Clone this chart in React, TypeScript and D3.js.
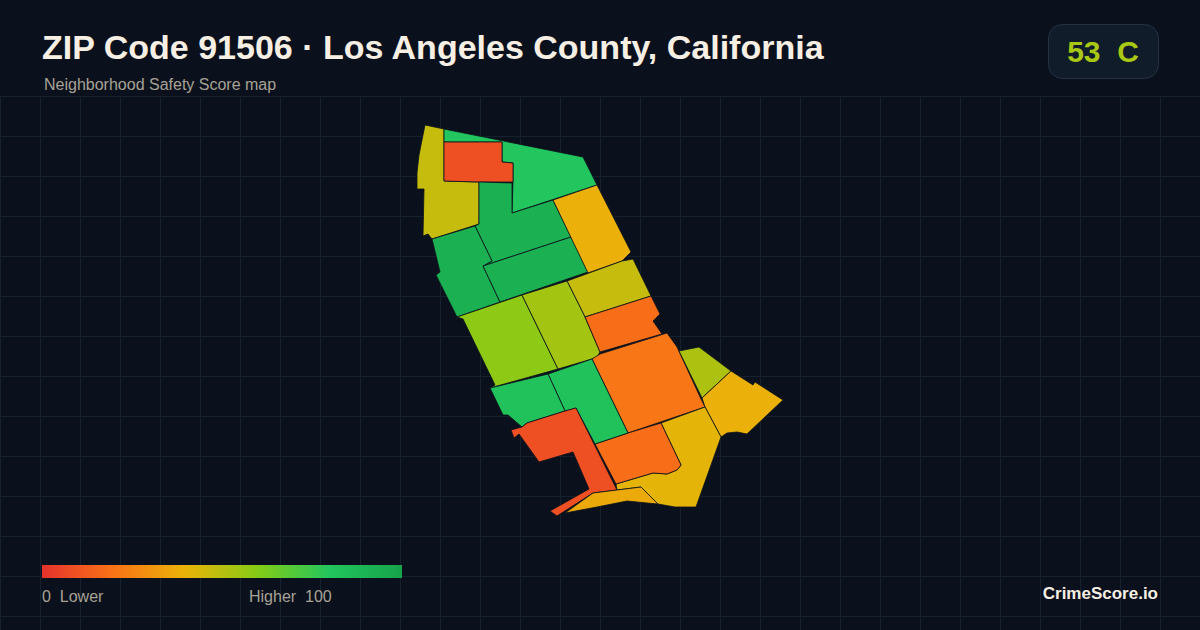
import React from "react";
import * as d3 from "d3";

const WIDTH = 1200;
const HEIGHT = 630;

const title = "ZIP Code 91506 · Los Angeles County, California";
const subtitle = "Neighborhood Safety Score map";

// legend ramp, score -> colour
const rampStops = [0, 20, 40, 60, 80, 100];
const rampColors = ["#e5322d", "#f97316", "#eab308", "#84cc16", "#22c55e", "#16a34a"];

// score of each block group, same order as blockRings
const blockScores = [47, 80, 9, 92, 92, 92, 39, 47, 58, 54, 18, 21, 52, 39, 41, 18, 82, 82, 9, 37];

// block group outlines in map units
const blockRings: [number, number][][] = [
  [[8, 1], [27, 5], [27, 57], [62, 58], [62, 100], [15, 115], [11, 110], [6, 112], [7, 65], [0, 65], [0, 49], [2, 31]],
  [[27, 5], [166, 33], [180, 61], [95, 89], [96, 58], [96, 39], [85, 38], [85, 18], [27, 18]],
  [[27, 18], [85, 18], [85, 38], [96, 39], [96, 58], [62, 58], [27, 57]],
  [[62, 58], [95, 59], [95, 89], [136, 76], [154, 113], [66, 142], [75, 137], [58, 102], [62, 100]],
  [[15, 115], [58, 102], [75, 137], [66, 142], [83, 178], [40, 193], [19, 151], [23, 148]],
  [[66, 142], [154, 113], [171, 148], [83, 178]],
  [[136, 76], [180, 61], [214, 128], [205, 137], [171, 149]],
  [[150, 157], [205, 137], [216, 135], [234, 172], [168, 193]],
  [[40, 193], [105, 171], [141, 245], [73, 264], [78, 261], [46, 195]],
  [[105, 171], [150, 157], [168, 193], [183, 228], [180, 233], [175, 235], [141, 245]],
  [[168, 193], [234, 172], [243, 190], [236, 197], [245, 210], [183, 228]],
  [[175, 235], [183, 230], [250, 209], [260, 223], [284, 275], [288, 283], [211, 309]],
  [[262, 227], [282, 223], [314, 247], [285, 274]],
  [[314, 247], [336, 261], [338, 258], [366, 276], [330, 310], [320, 308], [310, 309], [304, 313], [288, 283], [285, 274]],
  [[244, 299], [288, 283], [304, 313], [279, 383], [258, 383], [241, 380], [224, 363], [200, 366], [199, 360], [236, 349], [250, 350], [260, 346], [264, 341]],
  [[178, 320], [211, 309], [244, 299], [264, 341], [260, 346], [250, 350], [236, 349], [199, 360]],
  [[131, 250], [175, 235], [211, 309], [178, 320], [159, 284], [148, 287]],
  [[73, 264], [131, 250], [148, 287], [110, 299], [105, 303], [91, 291], [86, 291]],
  [[159, 284], [200, 366], [176, 369], [140, 392], [133, 387], [172, 365], [156, 328], [122, 338], [102, 310], [97, 314], [94, 306], [105, 303], [110, 299], [148, 287]],
  [[176, 369], [200, 366], [224, 363], [241, 380], [230, 379], [210, 377], [180, 383], [148, 389]],
];

const FONT = '"Liberation Sans", Arial, sans-serif';

const App: React.FC = () => {
  const color = d3.scaleLinear<string>().domain(rampStops).range(rampColors).interpolate(d3.interpolateRgb);
  const legendX = d3.scaleLinear().domain([0, 100]).range([42, 402]);

  const projection = d3.geoIdentity().translate([417, 124]);
  const path = d3.geoPath(projection);

  const gridX = d3.range(0, WIDTH + 1, 40);
  const gridY = d3.range(96, HEIGHT + 1, 40);

  return (
    <svg
      width={WIDTH}
      height={HEIGHT}
      viewBox={`0 0 ${WIDTH} ${HEIGHT}`}
      style={{ position: "fixed", left: 0, top: 0, fontFamily: FONT }}
    >
      <defs>
        <linearGradient id="ramp" x1="0" x2="1" y1="0" y2="0">
          {rampStops.map((s, i) => (
            <stop key={s} offset={`${s}%`} stopColor={rampColors[i]} />
          ))}
        </linearGradient>
      </defs>
      <rect width={WIDTH} height={HEIGHT} fill="#0a111c" />

      <g stroke="#15212d" strokeWidth={1}>
        {gridX.map((x) => (
          <line key={x} x1={x + 0.5} x2={x + 0.5} y1={96} y2={HEIGHT} />
        ))}
        {gridY.map((y) => (
          <line key={y} x1={0} x2={WIDTH} y1={y + 0.5} y2={y + 0.5} />
        ))}
      </g>

      <g stroke="#0a111c" strokeWidth={0.8} strokeLinejoin="round">
        {blockRings.map((ring, i) => (
          <path
            key={i}
            d={path({ type: "Polygon", coordinates: [[...ring, ring[0]]] } as any) || ""}
            fill={color(blockScores[i])}
          />
        ))}
      </g>

      <text x={42} y={59} fontSize={34} fontWeight="bold" fill="#f7efe4">
        {title}
      </text>
      <text x={44} y={90} fontSize={16} fill="#a8a296">
        {subtitle}
      </text>

      <rect x={1048.5} y={24.5} width={110} height={54} rx={14} fill="#111c2a" stroke="#263242" />
      <text x={1103} y={62} fontSize={30} fontWeight="bold" fill="#a8c814" textAnchor="middle" style={{ whiteSpace: "pre" }}>
        {"53  C"}
      </text>

      <rect x={legendX(0)} y={565} width={legendX(100) - legendX(0)} height={13} fill="url(#ramp)" />
      <text x={legendX(0)} y={602} fontSize={16} fill="#a8a296" style={{ whiteSpace: "pre" }}>
        {"0  Lower"}
      </text>
      <text x={249} y={602} fontSize={16} fill="#a8a296" style={{ whiteSpace: "pre" }}>
        {"Higher  100"}
      </text>

      <text x={1158} y={599} fontSize={17} fontWeight="bold" fill="#f7efe4" textAnchor="end">
        CrimeScore.io
      </text>
    </svg>
  );
};

export default App;
